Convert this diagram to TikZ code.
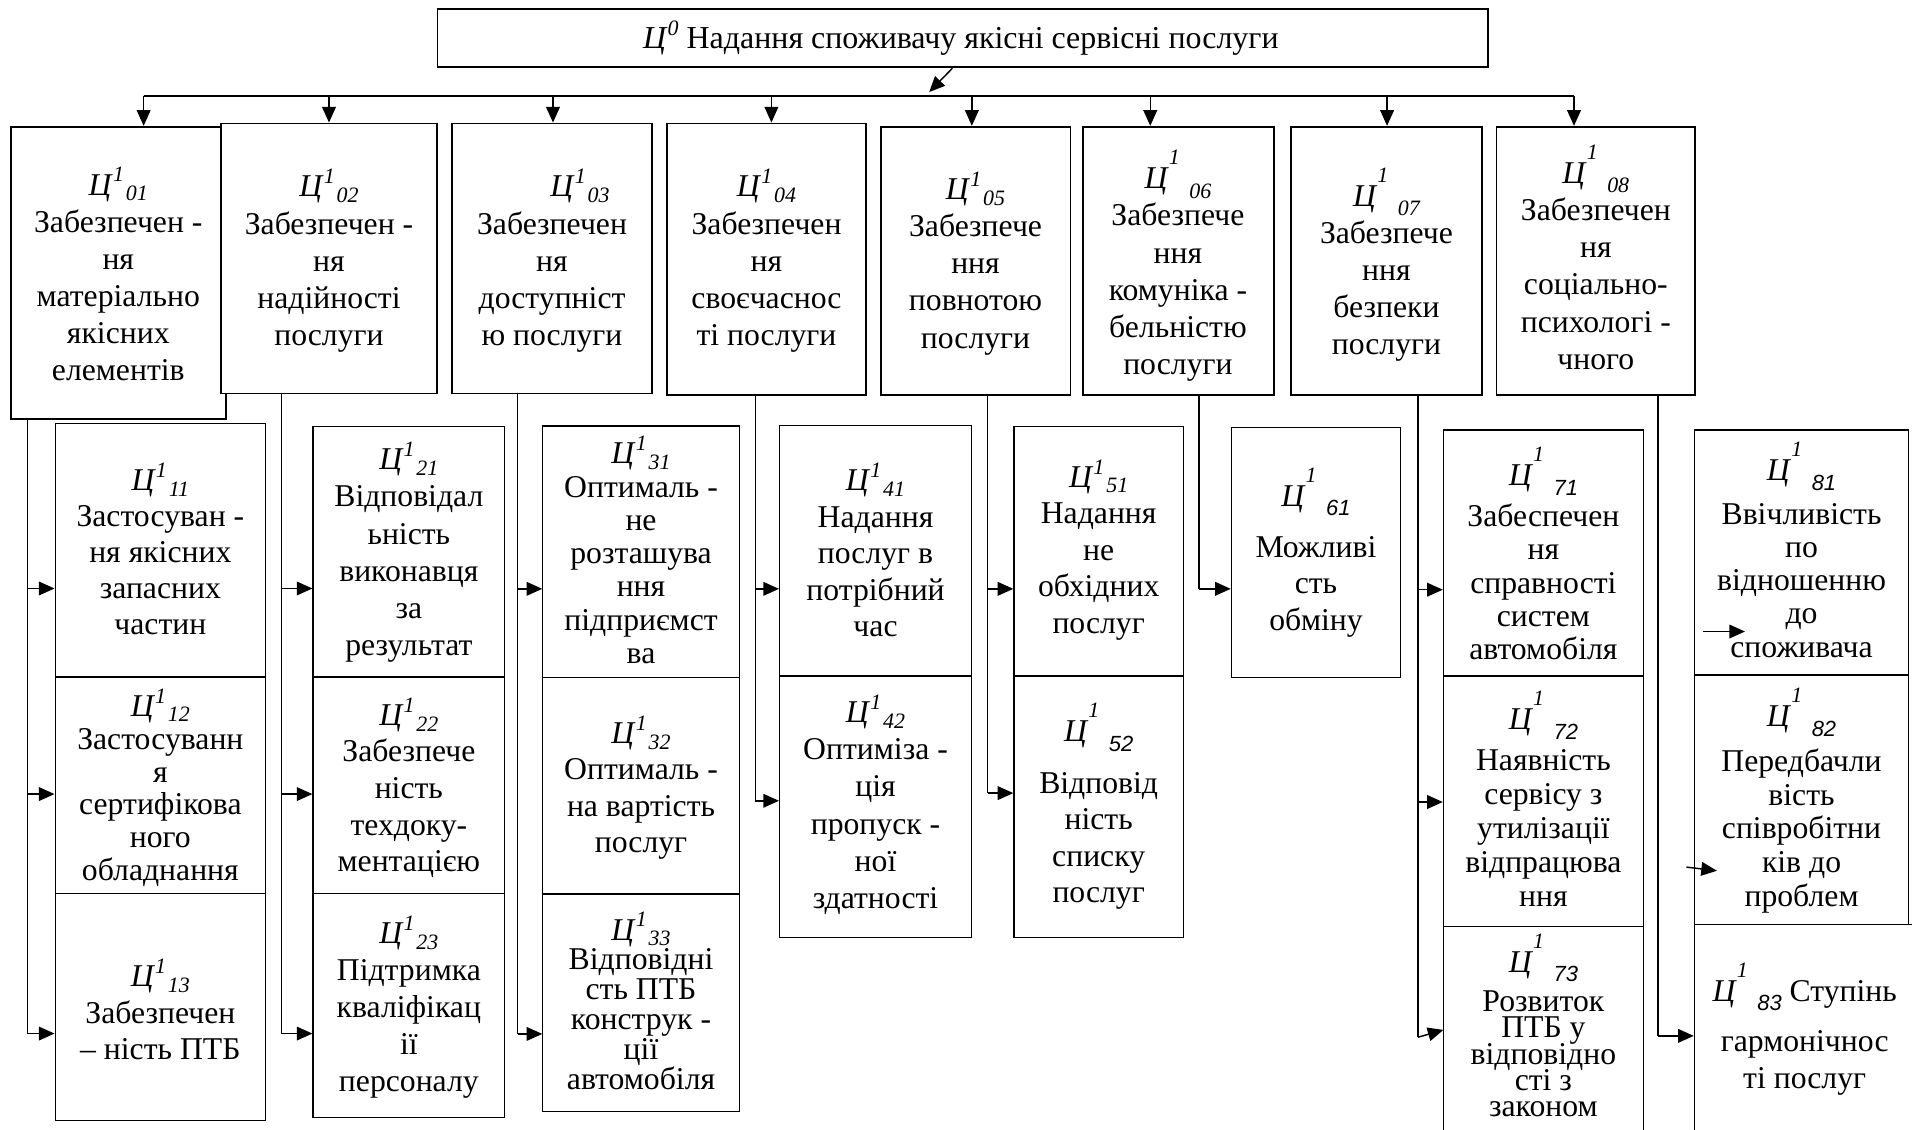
\documentclass[tikz,border=0pt]{standalone}
\usepackage{fontspec}
\setmainfont{Liberation Serif}
\newfontfamily\sansf{Liberation Sans}
\usetikzlibrary{arrows.meta,fit}
\newcommand\fs[1]{\fontsize{13pt}{#1pt}\selectfont}
\newcommand\tightfs{\fontsize{13pt}{10.8pt}\selectfont\lineskiplimit=-30pt\lineskip=0pt\relax}
\newcommand\LA[1]{\textit{Ц}\raisebox{0.9ex}{\fontsize{9}{9}\selectfont\itshape 1}\kern0.06em\raisebox{-0.4ex}{\fontsize{9}{9}\selectfont\itshape #1}}
\newcommand\LB[2][\rmfamily]{\textit{Ц}\raisebox{1.65ex}{\fontsize{9}{9}\selectfont\itshape 1}\kern0.3em\raisebox{-0.65ex}{\fontsize{9}{9}\selectfont#1\itshape #2}}
\tikzset{
  ubox/.style={draw, line width=0.7pt, fill=white, inner sep=0pt},
  lbox/.style={draw, line width=0.5pt, inner sep=0pt},
  txt/.style={align=center, inner sep=0pt},
  arr/.style={line width=0.6pt, -{Triangle[length=6.4pt,width=5.6pt]}},
  spine/.style={line width=0.6pt},
  bus/.style={line width=0.8pt}
}
\begin{document}
\begin{tikzpicture}[x=0.5pt,y=-0.5pt]
\useasboundingbox (0,0) rectangle (1568,926);
\clip (0,0) rectangle (1568,926);
% top box
\node[ubox, fit={(358.8,7.5) (1220.5,54.7)}] (top) {};
\node[txt, font=\fontsize{13.1pt}{15pt}\selectfont] (ttop) at (788,31) {\textit{Ц}\raisebox{0.9ex}{\fontsize{9}{9}\selectfont\itshape 0} Надання споживачу якісні сервісні послуги};
% bus
\coordinate (dA) at (781,56);
\coordinate (dB) at (762,75.5);
\draw[arr] (dA) -- (dB);
\coordinate (k1) at (117.8,78.5);
\coordinate (k2) at (269.8,78.5);
\coordinate (k3) at (453.5,78.5);
\coordinate (k4) at (632.6,78.5);
\coordinate (k5) at (797,78.5);
\coordinate (k6) at (943.3,78.5);
\coordinate (k7) at (1137.5,78.5);
\coordinate (k8) at (1290.8,78.5);
\draw[bus] (k1) -- (k8);
% upper boxes
\node[ubox, fit={(9,103.9) (185.1,343.9)}] (B01) {};
\node[ubox, fit={(181.4,101.2) (358.1,322.6)}] (B02) {};
\node[ubox, fit={(370.5,101.2) (534.9,322.6)}] (B03) {};
\node[ubox, fit={(547.2,101.2) (710,324)}] (B04) {};
\node[ubox, fit={(722.3,103.9) (878,324)}] (B05) {};
\node[ubox, fit={(888,103.9) (1044.7,324)}] (B06) {};
\node[ubox, fit={(1058.9,103.9) (1215.5,324)}] (B07) {};
\node[ubox, fit={(1227.2,103.9) (1390.3,324)}] (B08) {};
\foreach \k/\b in {k1/B01,k2/B02,k3/B03,k4/B04,k5/B05,k6/B06,k7/B07,k8/B08}
  \draw[arr] (\k) -- (\k |- \b.north);
\node[txt, font=\fs{15.25}] (tB01) at (97,225) {\LA{01}\\Забезпечен -\\ня\\матеріально\\якісних\\елементів};
\node[txt, font=\fs{15.25}] (tB02) at (269.8,214) {\LA{02}\\Забезпечен -\\ня\\надійності\\послуги};
\node[txt, font=\fs{15.25}] (tB03) at (452.7,214) {\hspace*{23pt}\LA{03}\\Забезпечен\\ня\\доступніст\\ю послуги};
\node[txt, font=\fs{15.25}] (tB04) at (628.6,214) {\LA{04}\\Забезпечен\\ня\\своєчаснос\\ті послуги};
\node[txt, font=\fs{15.25}] (tB05) at (800,216) {\LA{05}\\Забезпече\\ння\\повнотою\\послуги};
\node[txt, font=\fs{15.25}] (tB06) at (966,218) {\LB{06}\\Забезпече\\ння\\комуніка -\\бельністю\\послуги};
\node[txt, font=\fs{15.25}] (tB07) at (1137,217) {\LB{07}\\Забезпече\\ння\\безпеки\\послуги};
\node[txt, font=\fs{15.25}] (tB08) at (1308.7,211) {\LB{08}\\Забезпечен\\ня\\соціально-\\психологі -\\чного};
% lower boxes
\node[lbox, fit={(45.2,347.2) (217.9,555.2)}] (c11) {};
\node[lbox, fit={(45.2,555.2) (217.9,732.8)}] (c12) {};
\node[lbox, fit={(45.2,732.8) (217.9,919)}] (c13) {};
\node[lbox, fit={(256.7,349.8) (414,555.2)}] (c21) {};
\node[lbox, fit={(256.7,555.2) (414,732.8)}] (c22) {};
\node[lbox, fit={(256.7,732.8) (414,916.4)}] (c23) {};
\node[lbox, fit={(445.2,349.4) (606.2,555.5)}] (c31) {};
\node[lbox, fit={(445.2,555.5) (606.2,733.2)}] (c32) {};
\node[lbox, fit={(445.2,733.2) (606.2,911.8)}] (c33) {};
\node[lbox, fit={(639.3,349) (796.6,554.4)}] (c41) {};
\node[lbox, fit={(639.3,554.4) (796.6,768.8)}] (c42) {};
\node[lbox, fit={(831.5,349.9) (970.4,554.4)}] (c51) {};
\node[lbox, fit={(831.5,554.4) (970.4,768.8)}] (c52) {};
\node[lbox, fit={(1009.8,350.4) (1148.6,555.4)}] (c61) {};
\node[lbox, fit={(1183.7,352.6) (1347.7,554.3)}] (c71) {};
\node[lbox, fit={(1183.7,554.3) (1347.7,760)}] (c72) {};
\node[lbox, fit={(1183.7,760) (1347.7,940)}] (c73) {};
\node[lbox, fit={(1389.5,352.6) (1565.3,553.6)}] (c81) {};
\node[lbox, fit={(1389.5,553.6) (1565.3,758)}] (c82) {};
\node[lbox, fit={(1389.5,758) (1590,940)}] (c83) {};
% lower texts
\node[txt, font=\fs{14.75}] (t11) at (131.5,450) {\LA{11}\\Застосуван -\\ня якісних\\запасних\\частин};
\node[txt, font=\fs{13.5}] (t12) at (131.5,646) {\LA{12}\\Застосуванн\\я\\сертифікова\\ного\\обладнання};
\node[txt, font=\fs{15}] (t13) at (131.5,828) {\LA{13}\\Забезпечен\\– ність ПТБ};
\node[txt, font=\fs{15.25}] (t21) at (335.3,453) {\LA{21}\\Відповідал\\ьність\\виконавця\\за\\результат};
\node[txt, font=\fs{15}] (t22) at (335.3,646) {\LA{22}\\Забезпече\\ність\\техдоку-\\ментацією};
\node[txt, font=\fs{15.25}] (t23) at (335.3,826) {\LA{23}\\Підтримка\\кваліфікац\\ії\\персоналу};
\node[txt, font=\fs{13.65}] (t31) at (525.7,451) {\LA{31}\\Оптималь -\\не\\розташува\\ння\\підприємст\\ва};
\node[txt, font=\fs{15}] (t32) at (525.7,646) {\LA{32}\\Оптималь -\\на вартість\\послуг};
\node[txt, font=\fs{12.25}] (t33) at (525.7,821) {\LA{33}\\Відповідні\\сть ПТБ\\конструк -\\ції\\автомобіля};
\node[txt, font=\fs{15}] (t41) at (718,451) {\LA{41}\\Надання\\послуг в\\потрібний\\час};
\node[txt, font=\fs{15.2}] (t42) at (718,660) {\LA{42}\\Оптиміза -\\ція\\пропуск -\\ної\\здатності};
\node[txt, font=\fs{15}] (t51) at (901,451) {\LA{51}\\Надання\\не\\обхідних\\послуг};
\node[txt, font=\fs{15}] (t52) at (901,661.5) {\LB[\sansf]{52}\\[6pt]Відповід\\ність\\списку\\послуг};
\node[txt, font=\fs{15}] (t61) at (1079.2,453) {\LB[\sansf]{61}\\[6pt]Можливі\\сть\\обміну};
\node[txt, font=\fs{13.65}] (t71) at (1265.7,454) {\LB[\sansf]{71}\\[3pt]Забеспечен\\ня\\справності\\систем\\автомобіля};
\node[txt, font=\fs{13.85}] (t72) at (1265.7,655) {\LB[\sansf]{72}\\[3pt]Наявність\\сервісу з\\утилізації\\відпрацюва\\ння};
\node[txt, font=\tightfs] (t73) at (1265.7,841) {\LB[\sansf]{73}\\[5.2pt]Розвиток\\ПТБ у\\відповідно\\сті з\\законом};
\node[txt, font=\fs{13.6}] (t81) at (1477.4,451) {\LB[\sansf]{81}\\[4.25pt]Ввічливість\\по\\відношенню\\до\\споживача};
\node[txt, font=\fs{13.75}] (t82) at (1477.4,656.5) {\LB[\sansf]{82}\\[4.75pt]Передбачли\\вість\\співробітни\\ків до\\проблем};
\node[txt, font=\fs{15.5}] (t83) at (1480,844) {\LB[\sansf]{83} Ступінь\\[5pt]гармонічнос\\ті послуг};
% spines and branch arrows
\coordinate (e11) at (22.4,482.6);
\coordinate (e12) at (22.4,651.2);
\coordinate (e13) at (22.4,847.6);
\draw[spine] (e13 |- B01.south) -- (e13);
\draw[arr] (e11) -- (e11 -| c11.west);
\draw[arr] (e12) -- (e12 -| c12.west);
\draw[arr] (e13) -- (e13 -| c13.west);
\coordinate (e21) at (231,482.6);
\coordinate (e22) at (231,651.2);
\coordinate (e23) at (231,847.6);
\draw[spine] (e23 |- B02.south) -- (e23);
\draw[arr] (e21) -- (e21 -| c21.west);
\draw[arr] (e22) -- (e22 -| c22.west);
\draw[arr] (e23) -- (e23 -| c23.west);
\coordinate (e31) at (424.6,482.9);
\coordinate (e33) at (424.6,847.9);
\draw[spine] (e33 |- B03.south) -- (e33);
\draw[arr] (e31) -- (e31 -| c31.west);
\draw[arr] (e33) -- (e33 -| c33.west);
\coordinate (e41) at (619.4,482.9);
\coordinate (e42) at (619.4,656.7);
\draw[spine] (e42 |- B04.south) -- (e42);
\draw[arr] (e41) -- (e41 -| c41.west);
\draw[arr] (e42) -- (e42 -| c42.west);
\coordinate (e51) at (810,482.9);
\coordinate (e52) at (810,650.4);
\draw[spine] (e52 |- B05.south) -- (e52);
\draw[arr] (e51) -- (e51 -| c51.west);
\draw[arr] (e52) -- (e52 -| c52.west);
\coordinate (e61) at (983.2,482.9);
\draw[spine] (e61 |- B06.south) -- (e61);
\draw[arr] (e61) -- (e61 -| c61.west);
\coordinate (e71) at (1163,483.6);
\coordinate (e72) at (1163,657.7);
\coordinate (e73) at (1163,850.6);
\coordinate (f73) at (1183.7,844.6);
\draw[spine] (e73 |- B07.south) -- (e73);
\draw[arr] (e71) -- (e71 -| c71.west);
\draw[arr] (e72) -- (e72 -| c72.west);
\draw[arr] (e73) -- (f73);
\coordinate (e83) at (1359.8,849.5);
\draw[spine] (e83 |- B08.south) -- (e83);
\draw[arr] (e83) -- (e83 -| c83.west);
% stray arrows
\coordinate (g1) at (1396.5,517.9);
\coordinate (h1) at (1431,517.9);
\draw[arr] (g1) -- (h1);
\coordinate (g2) at (1383,711.1);
\coordinate (h2) at (1408,714.1);
\draw[arr] (g2) -- (h2);
\end{tikzpicture}
\end{document}
